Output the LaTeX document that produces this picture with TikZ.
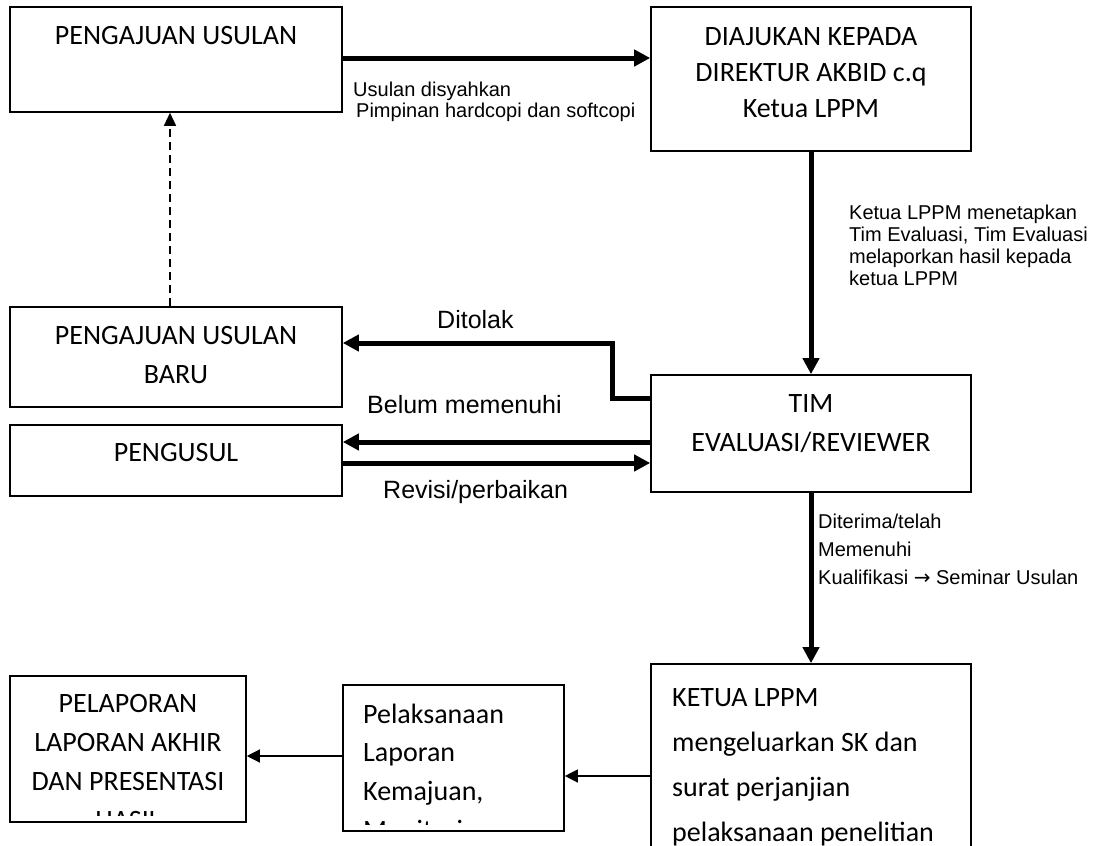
\documentclass[tikz,border=0pt]{standalone}
\usepackage{fontspec}
\setmainfont{Carlito}
\newfontfamily\arialf{Liberation Sans}
\newfontfamily\arrowf{DejaVu Sans}
\usetikzlibrary{arrows.meta}
\begin{document}
\begin{tikzpicture}[x=1pt,y=-1pt,
  box/.style={draw,line width=1.6pt,inner sep=0pt,rectangle},
  boxtext/.style={inner sep=0pt,font=\fontsize{28}{39}\selectfont},
  lbl/.style={inner sep=0pt,font=\arialf\fontsize{20}{22}\selectfont,anchor=base west},
  biglbl/.style={inner sep=0pt,font=\arialf\fontsize{25}{30}\selectfont,anchor=base west},
  thickarrow/.style={line width=5pt,-{Triangle[length=16pt,width=16pt]}},
  thinarrow/.style={line width=1.3pt,-{Triangle[length=13pt,width=13pt]}},
  dasharrow/.style={line width=1.3pt,dash pattern=on 8pt off 5pt,-{Triangle[length=13pt,width=12pt]}}]
\useasboundingbox (0,0) rectangle (1096,846);
\clip (0,0) rectangle (1096,846);

% boxes
\node[box,minimum width=332pt,minimum height=105pt] (b1) at (176,59.5) {};
\node[box,minimum width=320pt,minimum height=144pt] (b2) at (811,79) {};
\node[box,minimum width=332pt,minimum height=100pt] (b3) at (176,357) {};
\node[box,minimum width=332pt,minimum height=71pt] (b4) at (176,460.5) {};
\node[box,minimum width=320pt,minimum height=117pt] (b5) at (811,433.5) {};
\node[box,minimum width=320pt,minimum height=206pt] (b6) at (811,767) {};
\node[box,minimum width=221pt,minimum height=146pt] (b7) at (453.5,758) {};
\node[box,minimum width=236pt,minimum height=146pt] (b8) at (128,749) {};

% box texts
\node[boxtext,anchor=base] (t1) at (176,44) {PENGAJUAN USULAN};
\node[boxtext,anchor=base,text width=320pt,align=flush center,font=\fontsize{28}{36}\selectfont] (t2) at (811,45) {DIAJUKAN KEPADA\\DIREKTUR AKBID c.q\\Ketua LPPM};
\node[boxtext,anchor=base,text width=330pt,align=flush center] (t3) at (176,344) {PENGAJUAN USULAN\\BARU};
\node[boxtext,anchor=base] (t4) at (176,461) {PENGUSUL};
\node[boxtext,anchor=base,text width=320pt,align=flush center] (t5) at (811,412) {TIM\\EVALUASI/REVIEWER};
\node[boxtext,anchor=base west,text width=300pt,align=flush left,font=\fontsize{28}{45}\selectfont] (t6) at (672,706) {KETUA LPPM\\mengeluarkan SK dan\\surat perjanjian\\pelaksanaan penelitian};
\begin{scope}
\clip (b7.north west) rectangle ([yshift=7pt]b7.south east);
\node[boxtext,anchor=base west,text width=210pt,align=flush left,font=\fontsize{28}{38.7}\selectfont] (t7) at (363,723) {Pelaksanaan\\Laporan\\Kemajuan,\\Monitoring};
\end{scope}
\begin{scope}
\clip (b8.north west) rectangle ([yshift=7pt]b8.south east);
\node[boxtext,anchor=base,text width=236pt,align=flush center,font=\fontsize{28}{39.3}\selectfont] (t8) at (128,712) {PELAPORAN\\LAPORAN AKHIR\\DAN PRESENTASI\\HASIL};
\end{scope}

% labels
\node[lbl,text width=320pt,align=flush left,font=\arialf\fontsize{20}{21}\selectfont] (l1) at (353,96) {Usulan disyahkan\\\hspace*{3pt}Pimpinan hardcopi dan softcopi};
\node[lbl,text width=260pt,align=flush left] (l2) at (849,219) {Ketua LPPM menetapkan\\Tim Evaluasi, Tim Evaluasi\\melaporkan hasil kepada\\ketua LPPM};
\node[biglbl] (l3) at (437,328) {Ditolak};
\node[biglbl] (l4) at (367,413) {Belum memenuhi};
\node[biglbl] (l5) at (383,498) {Revisi/perbaikan};
\node[lbl,text width=300pt,align=flush left,font=\arialf\fontsize{20}{28}\selectfont] (l6) at (818,528) {Diterima/telah\\Memenuhi\\Kualifikasi {\arrowf →} Seminar Usulan};

% connectors
\draw[thickarrow] ([yshift=1.5pt]b1.east) -- ([yshift=1.5pt]b1.east -| b2.west);
\draw[thickarrow] (b2.south) -- (b5.north);
\draw[dasharrow] ([xshift=-6pt]b3.north) -- ([xshift=-6pt]b1.south);
\draw[thickarrow] ([yshift=35.5pt]b5.west) -- ++(-38,0) |- ([yshift=14pt]b3.east);
\draw[thickarrow] ([yshift=-8.5pt]b5.west) -- ([yshift=-8.5pt]b5.west -| b4.east);
\draw[thickarrow] ([yshift=-2.5pt]b4.east) -- ([yshift=-2.5pt]b4.east -| b5.west);
\draw[thickarrow] (b5.south) -- (b6.north);
\draw[thinarrow] ([yshift=-9pt]b6.west) -- ([yshift=-9pt]b6.west -| b7.east);
\draw[thinarrow] ([yshift=2pt]b7.west) -- ([yshift=2pt]b7.west -| b8.east);
\end{tikzpicture}
\end{document}
